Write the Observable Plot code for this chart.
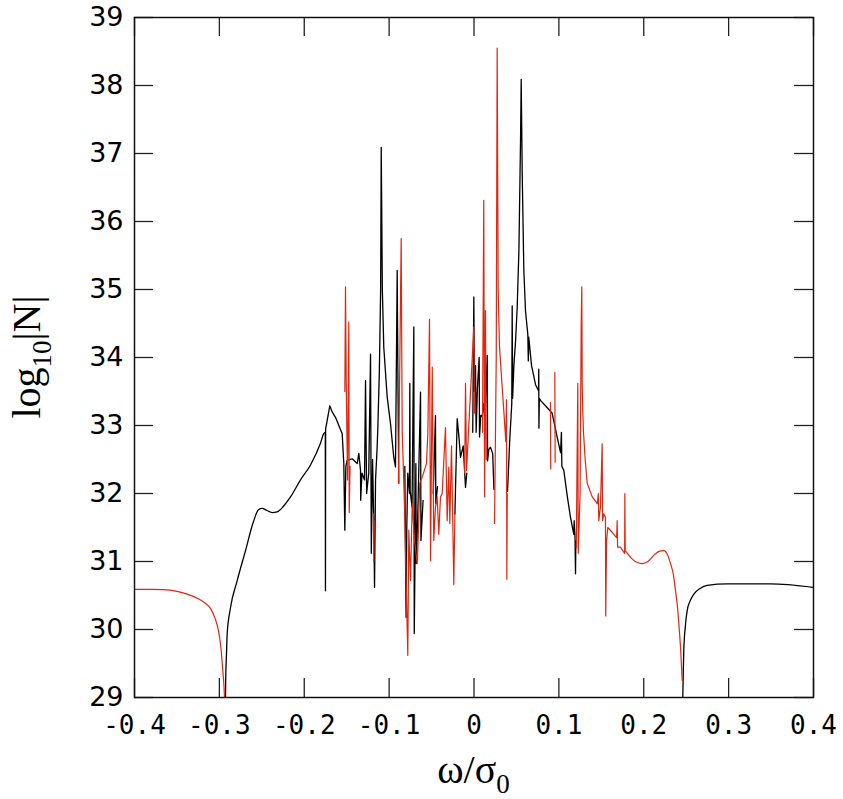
<!DOCTYPE html>
<html>
<head>
<meta charset="utf-8">
<script src="https://cdn.jsdelivr.net/npm/d3@7"></script>
<script src="https://cdn.jsdelivr.net/npm/@observablehq/plot@0.6"></script>
<style>
  html, body { margin: 0; padding: 0; background: #fff; }
</style>
</head>
<body>
<div id="chart"></div>
<script>
// ---- tick values / labels ----
const xTicks = [-0.4, -0.3, -0.2, -0.1, 0, 0.1, 0.2, 0.3, 0.4];
const xTickLabels = ["-0.4", "-0.3", "-0.2", "-0.1", "0", "0.1", "0.2", "0.3", "0.4"];
const yTicks = [29, 30, 31, 32, 33, 34, 35, 36, 37, 38, 39];

// ---- black curve pieces [omega/sigma0, log10|N|] ----
// smooth pieces
const blackLeftSmooth = [
  [-0.2932,28.5],[-0.2926,29.2],[-0.2916,29.65],[-0.2908,29.94],[-0.2869,30.32],[-0.2790,30.72],
  [-0.2692,31.16],[-0.2600,31.58],[-0.2540,31.76],[-0.2495,31.78],[-0.2440,31.75],[-0.2380,31.72],
  [-0.2319,31.73],[-0.2240,31.82],[-0.2162,31.95],[-0.2044,32.2],[-0.1926,32.42],[-0.1809,32.74],
  [-0.1770,32.88],[-0.1752,32.9]
];
const blackRight = [
  [0.2455,28.5],[0.2460,29.0],[0.2466,29.4],[0.2472,29.69],[0.2490,30.05],[0.2512,30.28],
  [0.2550,30.43],[0.2590,30.52],[0.2660,30.6],[0.2748,30.65],[0.2983,30.67],[0.3493,30.67],[0.4,30.62]
];
// spiky pieces
const blackLeft = [
  [-0.1752,32.9],[-0.1750,30.57],
  [-0.1748,32.95],[-0.1730,33.07],[-0.1699,33.29],[-0.1671,33.2],[-0.1632,33.12],[-0.1553,32.88],
  [-0.1534,32.44],[-0.1522,31.46],[-0.1510,32.4],[-0.1494,32.49],[-0.1435,32.51],[-0.1376,32.44],
  [-0.1357,32.59],[-0.1337,32.34],[-0.1335,31.9],[-0.1320,32.3],[-0.1290,32.2],[-0.1278,33.66],
  [-0.1265,32.0],[-0.1240,32.3],[-0.1219,34.05],[-0.1210,31.12],[-0.1195,32.5],[-0.1180,31.5],
  [-0.1172,30.62],[-0.1160,32.2],[-0.1141,32.68],[-0.1133,32.97],[-0.1115,33.8],[-0.1100,35.0],
  [-0.1093,37.09],[-0.1080,35.0],[-0.1063,34.15],[-0.1023,33.42],[-0.0984,33.03],[-0.0945,32.53],
  [-0.0925,32.39],[-0.0905,35.28],[-0.0897,33.81],[-0.0886,32.15]
];
const blackMid1 = [
  [-0.0815,32.4],[-0.0807,31.06],[-0.0800,30.18],[-0.0792,31.5],[-0.0780,32.3],[-0.0760,32.0],
  [-0.0756,33.62],[-0.0752,32.04],[-0.0730,31.8],[-0.0709,34.45],[-0.0704,29.94],[-0.0690,31.6],
  [-0.0685,32.44],[-0.0680,30.97],[-0.0660,31.8],[-0.0630,33.49],[-0.0625,31.31],[-0.0600,31.9]
];
const blackMid2 = [[-0.0480,32.0],[-0.0454,33.15],[-0.0450,31.85],[-0.0430,32.1]];
const blackMid3 = [
  [-0.0225,31.7],[-0.0198,33.1],[-0.0175,32.8],[-0.0159,32.53],[-0.0127,32.7],[-0.0100,32.09],[-0.0085,32.3]
];
const blackMid4 = [
  [-0.0015,32.9],[-0.0002,34.89],[0.0005,33.5],[0.0018,33.88],[0.0025,32.9],[0.0040,33.54],
  [0.0061,34.0],[0.0065,32.83],[0.0080,33.15],[0.0097,33.13],[0.0110,33.32],[0.0130,33.1],
  [0.0156,34.03],[0.0160,32.48],[0.0175,32.65],[0.0194,32.68],[0.0220,32.59],[0.0235,32.06]
];
const blackPeak = [
  [0.0395,32.03],[0.0420,32.76],[0.0445,33.32],[0.0450,34.76],[0.0455,33.4],[0.0470,33.88],
  [0.0490,34.25],[0.0509,34.74],[0.0529,35.57],[0.0549,37.26],[0.0556,38.09],[0.0568,36.71],
  [0.0587,35.29],[0.0607,34.68],[0.0634,34.34],[0.0640,33.95],[0.0645,34.3],[0.0678,33.88],
  [0.0725,33.6],[0.0760,33.51],[0.0763,33.83],[0.0765,32.96],[0.0770,33.4],[0.0783,33.37],
  [0.0850,33.28],[0.0921,33.18],[0.0980,32.83],[0.1020,32.6],[0.1030,32.9],[0.1035,32.4],
  [0.1058,32.34],[0.1100,31.95],[0.1137,31.65],[0.1176,31.4],[0.1180,31.6],[0.1190,31.36],
  [0.1196,30.82],[0.1200,31.3]
];

// ---- red curve pieces ----
const redLeftSmooth = [
  [-0.4,30.59],[-0.3800,30.59],[-0.3655,30.585],[-0.3500,30.56],[-0.3380,30.52],[-0.3261,30.46],
  [-0.3170,30.39],[-0.3105,30.31],[-0.3050,30.16],[-0.3019,30.03],[-0.2987,29.79],[-0.2960,29.4],
  [-0.2940,29.0],[-0.2935,28.5]
];
const redTailSmooth = [
  [0.1844,31.06],[0.1900,31.0],[0.1982,30.97],[0.2050,31.0],[0.2118,31.09],[0.2180,31.15],
  [0.2236,31.16],[0.2280,31.1],[0.2315,30.97],[0.2350,30.8],[0.2374,30.57],[0.2400,30.3],
  [0.2413,30.09],[0.2435,29.7],[0.2453,29.25]
];
const redSpikes1 = [[-0.1522,33.5],[-0.1514,35.04],[-0.1505,33.6],[-0.1490,32.2],[-0.1475,34.52],[-0.1470,31.72],[-0.1460,32.4]];
const redSpikes2 = [[-0.1185,31.7],[-0.1180,31.0],[-0.1175,31.6]];
const redMid1 = [
  [-0.0890,32.15],[-0.0858,35.75],[-0.0846,32.93],[-0.0834,32.44],[-0.0819,31.8],[-0.0807,31.16],
  [-0.0780,29.62],[-0.0768,31.46],[-0.0748,30.72],[-0.0728,31.85],[-0.0700,31.3],[-0.0669,30.97],
  [-0.0662,31.16],[-0.0639,32.15],[-0.0610,32.24],[-0.0560,32.44],[-0.0544,32.88],[-0.0524,34.56],
  [-0.0512,31.01],[-0.0492,33.86],[-0.0474,31.31],[-0.0454,31.8],[-0.0434,31.95],[-0.0415,31.4],
  [-0.0395,31.95],[-0.0375,32.0],[-0.0336,32.97],[-0.0316,31.6],[-0.0297,32.39],[-0.0285,31.56],
  [-0.0265,32.7],[-0.0238,30.66],[-0.0225,31.7]
];
const redMid2 = [[-0.0110,32.3],[-0.0100,33.62],[-0.0088,32.34],[-0.0002,34.45],[0.0005,33.18]];
const redMid3 = [[0.0100,32.9],[0.0115,36.31],[0.0125,31.95],[0.0135,34.69],[0.0145,32.5]];
const redPeak = [
  [0.0242,31.56],[0.0262,34.0],[0.0273,38.55],[0.0285,35.0],[0.0300,34.17],[0.0330,33.6],
  [0.0352,33.2],[0.0375,32.76],[0.0383,33.38],[0.0387,30.74],[0.0392,32.0]
];
const redSpikes3 = [[0.0901,33.34],[0.0904,32.36]];
const redSpikes4 = [[0.0952,33.78],[0.0956,32.46]];
const redRight = [
  [0.1205,31.2],[0.1223,33.62],[0.1228,31.12],[0.1250,32.0],[0.1263,34.5],[0.1270,35.04],
  [0.1275,33.6],[0.1282,33.2],[0.1290,32.9],[0.1310,32.5],[0.1334,32.15],[0.1393,31.95],
  [0.1452,31.85],[0.1465,32.0],[0.1470,31.6],[0.1490,31.8],[0.1510,32.73],[0.1515,31.6],
  [0.1530,31.7],[0.1549,31.65],[0.1552,30.2],[0.1562,31.3],[0.1576,31.5],[0.1628,31.43],
  [0.1680,31.35],[0.1687,31.6],[0.1692,31.21],[0.1726,31.21],[0.1775,31.12],[0.1777,32.0],
  [0.1782,31.16],[0.1844,31.06]
];

const blackSmooth = [blackLeftSmooth, blackRight];
const blackSpiky = [blackLeft, blackMid1, blackMid2, blackMid3, blackMid4, blackPeak];
const redSmooth = [redLeftSmooth, redTailSmooth];
const redSpiky = [redSpikes1, redSpikes2, redMid1, redMid2, redMid3, redPeak, redSpikes3, redSpikes4, redRight];

function toRows(pieces, tag) {
  const rows = [];
  pieces.forEach((p, i) => p.forEach(([x, y]) => rows.push({x, y, seg: tag + i})));
  return rows;
}

const W = 843, H = 799;
const mL = 134, mR = 30, mT = 17, mB = 102;
const innerH = H - mT - mB, innerW = W - mL - mR;
const tickLen = 19;
const RED = "#e3250f";

const chart = Plot.plot({
  width: W,
  height: H,
  marginLeft: mL,
  marginRight: mR,
  marginTop: mT,
  marginBottom: mB,
  style: {background: "#fff", overflow: "visible"},
  x: {domain: [-0.4, 0.4], axis: null},
  y: {domain: [29, 39], axis: null},
  marks: [
    Plot.line(toRows(blackSmooth, "bs"), {x: "x", y: "y", z: "seg", curve: "monotone-x", stroke: "#000", strokeWidth: 1.3, clip: true}),
    Plot.line(toRows(blackSpiky, "b"), {x: "x", y: "y", z: "seg", stroke: "#000", strokeWidth: 1.3, clip: true}),
    Plot.line(toRows(redSmooth, "rs"), {x: "x", y: "y", z: "seg", curve: "monotone-x", stroke: RED, strokeWidth: 1.2, clip: true}),
    Plot.line(toRows(redSpiky, "r"), {x: "x", y: "y", z: "seg", stroke: RED, strokeWidth: 1.2, clip: true}),
    // inward ticks on all four sides
    Plot.tickX(xTicks, {x: d => d, insetTop: innerH - tickLen, stroke: "#222", strokeWidth: 1.3}),
    Plot.tickX(xTicks, {x: d => d, insetBottom: innerH - tickLen, stroke: "#222", strokeWidth: 1.3}),
    Plot.tickY(yTicks, {y: d => d, insetRight: innerW - tickLen, stroke: "#222", strokeWidth: 1.3}),
    Plot.tickY(yTicks, {y: d => d, insetLeft: innerW - tickLen, stroke: "#222", strokeWidth: 1.3}),
    Plot.frame({stroke: "#111", strokeWidth: 1.5}),
    Plot.text(yTicks, {
      y: d => d, frameAnchor: "left", dx: -11, textAnchor: "end",
      text: d => String(d), fontSize: 27, fontFamily: "DejaVu Sans", fill: "#000"
    }),
    Plot.text(xTicks, {
      x: d => d, frameAnchor: "bottom", dy: 18, lineAnchor: "top",
      text: (d, i) => xTickLabels[i], fontSize: 26, fontFamily: "DejaVu Sans Mono", fill: "#000"
    })
  ]
});

const svg = d3.select(chart);
const cx = chart.scale("x").apply(0);
const cy = chart.scale("y").apply(34);

// x axis title: ω/σ0
const xt = svg.append("text")
  .attr("x", cx).attr("y", 783)
  .attr("text-anchor", "middle")
  .attr("font-family", "Liberation Serif, serif")
  .attr("font-size", 40)
  .attr("fill", "#000");
xt.append("tspan").text("ω/σ");
xt.append("tspan").attr("font-size", 27).attr("dy", 10).text("0");

// y axis title: log10|N|
const yt = svg.append("text")
  .attr("transform", `translate(40,${cy}) rotate(-90)`)
  .attr("text-anchor", "middle")
  .attr("font-family", "Liberation Serif, serif")
  .attr("font-size", 40)
  .attr("fill", "#000");
yt.append("tspan").text("log");
yt.append("tspan").attr("font-size", 27).attr("dy", 11).text("10");
yt.append("tspan").attr("dy", -11).text("|N|");

document.getElementById("chart").appendChild(chart);
</script>
</body>
</html>
